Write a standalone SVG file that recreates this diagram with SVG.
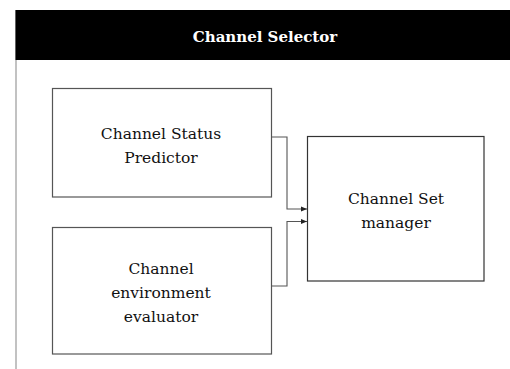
<svg xmlns="http://www.w3.org/2000/svg" width="510" height="369" viewBox="0 0 510 369">
<defs>
<style>
.box{fill:#fff;stroke:#555;stroke-width:1.2}
.t{font-family:'DejaVu Serif',serif;font-size:15.5px;fill:#111;text-anchor:middle}
.c{fill:none;stroke:#555;stroke-width:1.1}
</style>
<marker id="ah" markerWidth="6" markerHeight="6" refX="6" refY="3" orient="auto" markerUnits="userSpaceOnUse"><path d="M0,0.5 L6,3 L0,5.5 Z" fill="#222"/></marker>
</defs>
<rect width="510" height="369" fill="#fff"/>
<g id="container">
<line x1="16" y1="10" x2="16" y2="369" stroke="#999" stroke-width="1.2"/>
<rect x="15.5" y="10" width="494.5" height="50" fill="#000"/>
<text x="265" y="42" class="t" style="fill:#fff;font-weight:bold;font-size:15px">Channel Selector</text>
</g>
<g id="predictor">
<rect class="box" x="52.5" y="88.5" width="219" height="108.5"/>
<text class="t" x="161" y="139">Channel Status</text>
<text class="t" x="161" y="163">Predictor</text>
</g>
<g id="evaluator">
<rect class="box" x="52.5" y="227.5" width="219" height="126.5"/>
<text class="t" x="161" y="274">Channel</text>
<text class="t" x="161" y="298">environment</text>
<text class="t" x="161" y="322">evaluator</text>
</g>
<g id="manager">
<rect class="box" x="307.5" y="136.5" width="176.5" height="144.5" style="stroke:#333"/>
<text class="t" x="396" y="204">Channel Set</text>
<text class="t" x="396" y="228">manager</text>
</g>
<g id="connectors">
<path class="c" d="M271.5,137 H287 V209 H307" marker-end="url(#ah)"/>
<path class="c" d="M271.5,286 H287 V221.5 H307" marker-end="url(#ah)"/>
</g>
</svg>
